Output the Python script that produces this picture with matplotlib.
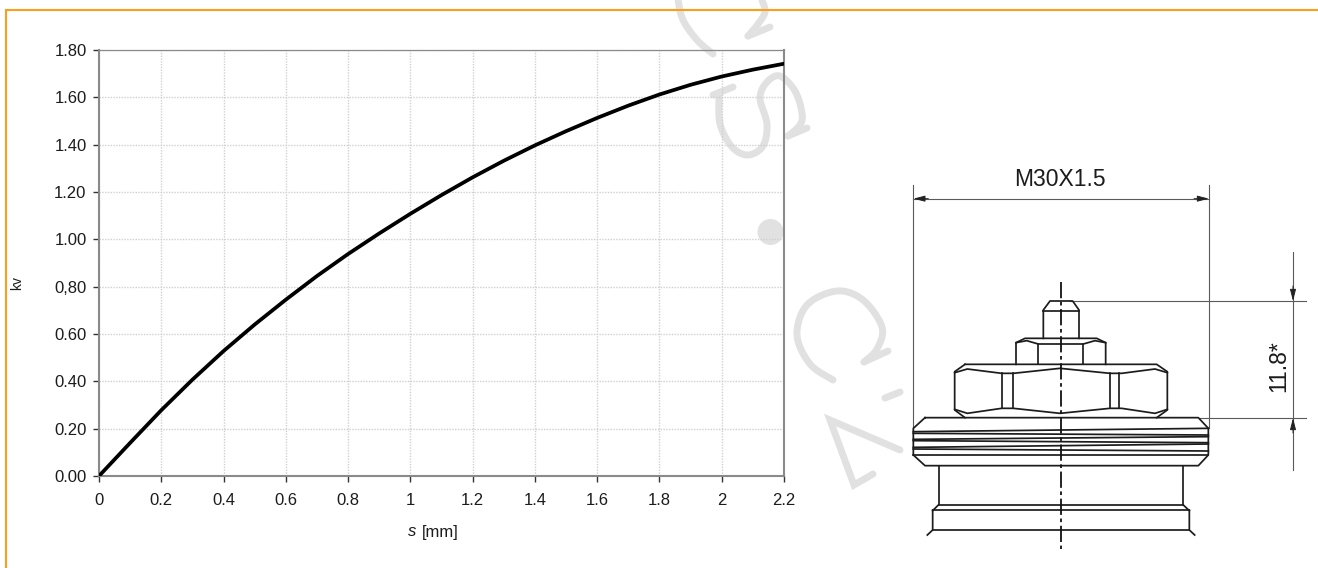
#!/usr/bin/env python
import matplotlib
matplotlib.use("Agg")
import matplotlib.pyplot as plt
import numpy as np

plt.rcParams['font.family'] = ['Liberation Sans', 'DejaVu Sans']

# curve
s_mm = [0, 0.1, 0.2, 0.3, 0.4, 0.5, 0.6, 0.7, 0.8, 0.9, 1.0, 1.1,
        1.2, 1.3, 1.4, 1.5, 1.6, 1.7, 1.8, 1.9, 2.0, 2.1, 2.2]
kv = [0, 0.14, 0.278, 0.407, 0.528, 0.64, 0.745, 0.845, 0.938, 1.025, 1.108, 1.187,
      1.262, 1.332, 1.397, 1.457, 1.513, 1.565, 1.612, 1.653, 1.688, 1.717, 1.742]

x_ticks = [0, 0.2, 0.4, 0.6, 0.8, 1, 1.2, 1.4, 1.6, 1.8, 2, 2.2]
x_labels = ["0", "0.2", "0.4", "0.6", "0.8", "1", "1.2", "1.4", "1.6", "1.8", "2", "2.2"]
y_ticks = [0, 0.2, 0.4, 0.6, 0.8, 1.0, 1.2, 1.4, 1.6, 1.8]
y_labels = ["0.00", "0.20", "0.40", "0.60", "0,80", "1.00", "1.20", "1.40", "1.60", "1.80"]

W, H = 1318, 568

# watermark strokes, in picture pixels
mark_strokes = [
    [(678, 0), (683, 20), (697, 40), (713, 54)],
    [(762, 0), (765, 12), (758, 24), (748, 36)],
    [(748, 36), (770, 27)],
    [(713, 95), (733, 87)],
    [(719, 97), (720, 124), (732, 147), (748, 155), (763, 146), (767, 124),
     (760, 98), (767, 82), (780, 76), (795, 91), (802, 113), (800, 125), (788, 136)],
    [(788, 136), (807, 128)],
    [(833, 380), (810, 364), (797, 335), (807, 305), (837, 291), (863, 300),
     (882, 327), (877, 349), (864, 362)],
    [(864, 362), (888, 351)],
    [(885, 398), (900, 392)],
]
mark_corners = [
    [(900, 450), (830, 420), (854, 485), (873, 474)],
]

# valve drawing, in pixels of the 3x crop that starts at (880, 150)
outline = [
    # pin
    [(490, 565), (490, 480), (510, 453), (578, 453), (597, 480), (597, 565)],
    [(490, 482), (597, 482)],
    # small nut
    [(408, 643), (408, 578), (435, 565), (650, 565), (677, 578), (677, 643)],
    [(408, 578), (440, 572), (475, 582), (610, 582), (645, 572), (677, 578)],
    [(475, 582), (475, 643)], [(610, 582), (610, 643)],
    # large nut
    [(255, 643), (830, 643), (862, 665), (862, 780), (830, 803)],
    [(255, 643), (224, 665), (224, 780), (255, 803)],
    [(224, 668), (262, 657), (365, 670), (400, 670), (540, 655), (690, 670),
     (725, 670), (825, 657), (862, 668)],
    [(224, 778), (262, 790), (365, 775), (400, 775), (540, 790), (690, 775),
     (725, 775), (825, 790), (862, 778)],
    [(365, 670), (365, 775)], [(400, 670), (400, 775)],
    [(690, 670), (690, 775)], [(718, 670), (718, 775)],
    # threaded ring
    [(135, 803), (955, 803), (985, 835), (985, 915), (955, 947), (135, 947),
     (100, 915), (100, 835), (135, 803)],
    [(100, 845), (985, 835)], [(100, 850), (985, 855)],
    [(100, 868), (985, 860)], [(100, 872), (985, 878)],
    [(100, 892), (985, 882)], [(100, 897), (985, 903)],
    [(100, 915), (985, 915)],
    # lower body
    [(178, 947), (178, 1062)], [(910, 947), (910, 1062)],
    [(178, 1065), (910, 1065)],
    [(158, 1082), (175, 1065)], [(928, 1082), (910, 1065)],
    [(158, 1080), (928, 1080)],
    [(158, 1080), (158, 1140), (142, 1155)],
    [(928, 1080), (928, 1140), (944, 1155)],
    [(158, 1140), (928, 1140)],
]
thin_lines = [
    [(100, 105), (100, 835)],
    [(987, 105), (987, 835)],
    [(100, 146), (987, 146)],
    [(570, 453), (1277, 453)],
    [(960, 804), (1277, 804)],
    [(1239, 305), (1239, 960)],
]
center_line = [(543, 395), (543, 1197)]
arrow_tips = [
    ((100, 146), (145, 146)),
    ((987, 146), (942, 146)),
    ((1239, 453), (1239, 408)),
    ((1239, 804), (1239, 849)),
]


def crop_px(pts):
    xs = [880 + p[0] / 3 for p in pts]
    ys = [150 + p[1] / 3 for p in pts]
    return xs, ys


def rounded(stroke, steps=12):
    # Catmull-Rom through the strokes so the watermark letters come out round
    p = np.array(stroke, dtype=float)
    if len(p) < 3:
        return p[:, 0], p[:, 1]
    p = np.vstack([p[0], p, p[-1]])
    out = []
    t = np.linspace(0, 1, steps, endpoint=False)[:, None]
    for i in range(1, len(p) - 2):
        a, b, c, d = p[i - 1], p[i], p[i + 1], p[i + 2]
        out.append(0.5 * (2 * b + (c - a) * t + (2 * a - 5 * b + 4 * c - d) * t ** 2
                          + (3 * b - a - 3 * c + d) * t ** 3))
    out.append(p[-1:])
    out = np.vstack(out)
    return out[:, 0], out[:, 1]


def draw_overlay(fig):
    ax = fig.add_axes([0, 0, 1, 1], zorder=0)
    ax.set_xlim(0, W)
    ax.set_ylim(H, 0)
    ax.axis("off")

    # orange frame
    ax.plot([6, 6, W], [H, 10, 10], color="#fb9f1a", lw=1.5, solid_joinstyle="miter")

    for stroke in mark_strokes:
        xs, ys = rounded(stroke)
        ax.plot(xs, ys, color="#e1e1e1", lw=5, solid_capstyle="round",
                solid_joinstyle="round", zorder=1)
    for stroke in mark_corners:
        xs = [p[0] for p in stroke]
        ys = [p[1] for p in stroke]
        ax.plot(xs, ys, color="#e1e1e1", lw=5, solid_capstyle="round",
                solid_joinstyle="miter", zorder=1)
    ax.add_patch(plt.Circle((770.5, 232), 13, color="#e1e1e1", lw=0, zorder=1))

    for line in thin_lines:
        xs, ys = crop_px(line)
        ax.plot(xs, ys, color="#5a5a5a", lw=0.8, zorder=2)
    for line in outline:
        xs, ys = crop_px(line)
        ax.plot(xs, ys, color="#1c1c1c", lw=1.25, zorder=3)
    xs, ys = crop_px(center_line)
    ax.plot(xs, ys, color="#111111", lw=1.3, zorder=4, dashes=(9, 2, 2, 2))

    for tip, tail in arrow_tips:
        tx, ty = crop_px([tip, tail])
        ax.annotate("", xy=(tx[0], ty[0]), xytext=(tx[1], ty[1]),
                    arrowprops=dict(arrowstyle="-|>,head_length=0.7,head_width=0.18",
                                    color="#222222", lw=0.7, shrinkA=0, shrinkB=0))

    ax.text(1060, 179, "M30X1.5", fontsize=16.5, color="#1c1c1c", ha="center", va="center")
    ax.text(1279, 366, "11.8*", fontsize=16.5, color="#1c1c1c", ha="center", va="center",
            rotation=90)
    ax.text(17, 283, "kv", fontsize=10, color="#1c1c1c", ha="center", va="center",
            rotation=90)
    ax.text(408, 532, "s", fontsize=12, style="italic", color="#1c1c1c", ha="left", va="center")
    ax.text(422, 532, "[mm]", fontsize=12, color="#1c1c1c", ha="left", va="center")


def draw_curve(fig):
    ax = fig.add_axes([99 / W, 1 - 476 / H, 685 / W, 426 / H], zorder=1)
    ax.patch.set_alpha(0)
    ax.plot(s_mm, kv, color="black", lw=2.7, clip_on=True, zorder=5)
    ax.set_xlim(0, 2.2)
    ax.set_ylim(0, 1.8)
    ax.set_xticks(x_ticks, x_labels)
    ax.set_yticks(y_ticks, y_labels)
    ax.tick_params(labelsize=12, labelcolor="#1c1c1c", color="#333333", length=4.5,
                   width=1.0)
    ax.tick_params(axis="x", pad=8)
    ax.tick_params(axis="y", pad=4.5)
    ax.grid(True, color="#d0d0d0", lw=1.0, ls=(0, (1, 1)))
    ax.set_axisbelow(True)
    for side, spine in ax.spines.items():
        spine.set_color("#8a8a8a")
        spine.set_linewidth(1.5 if side != "top" else 0.9)


def main():
    fig = plt.figure(figsize=(W / 100, H / 100), dpi=100)
    draw_overlay(fig)
    draw_curve(fig)
    fig.savefig("out.png", dpi=100)
    plt.close(fig)


if __name__ == "__main__":
    main()
